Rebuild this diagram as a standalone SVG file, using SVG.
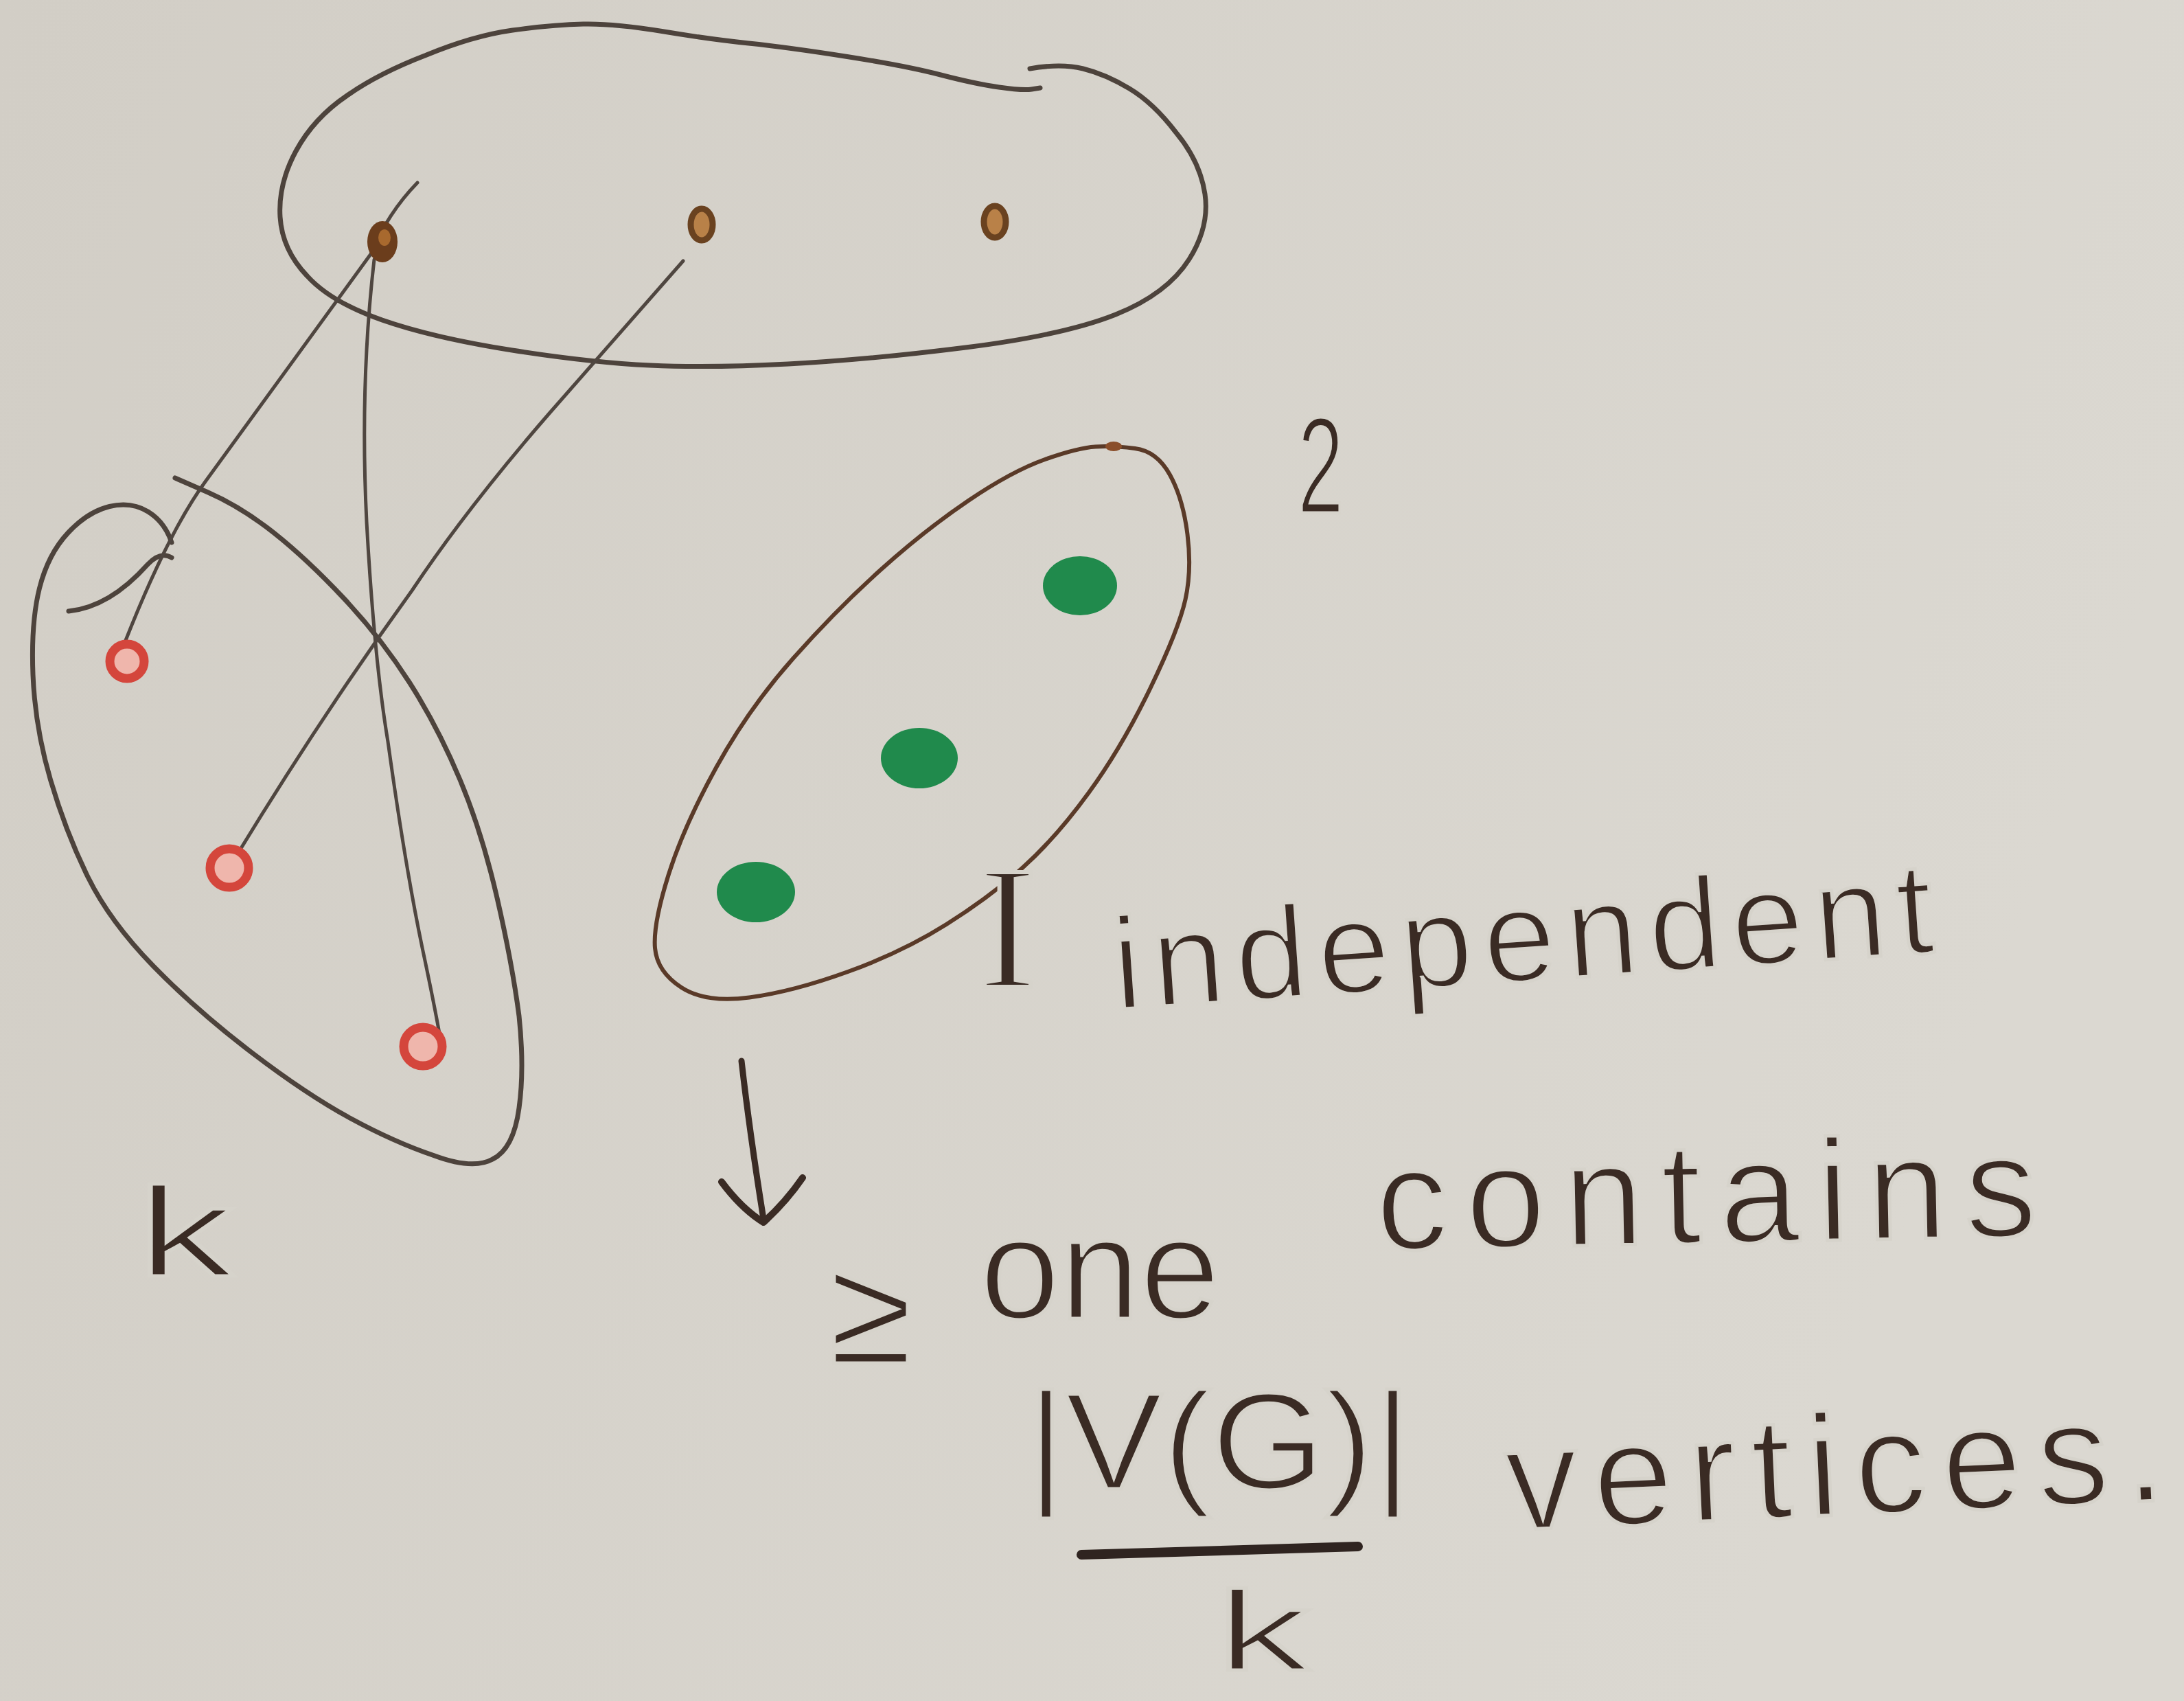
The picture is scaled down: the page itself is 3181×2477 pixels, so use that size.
<svg xmlns="http://www.w3.org/2000/svg" width="3181" height="2477" viewBox="0 0 3181 2477">
<defs>
<linearGradient id="paper" x1="0" y1="0" x2="1" y2="0.3">
<stop offset="0" stop-color="#d2cec6"/>
<stop offset="1" stop-color="#dbd8d1"/>
</linearGradient>
</defs>
<style>
.pen{fill:none;stroke:#4d433c;stroke-width:7;stroke-linecap:round;stroke-linejoin:round}
.edge{fill:none;stroke:#4f4640;stroke-width:5;stroke-linecap:round;stroke-linejoin:round}
.brownpen{fill:none;stroke:#5a3a28;stroke-width:6;stroke-linecap:round;stroke-linejoin:round}
.ink{fill:#3a2b24;font-family:"Liberation Sans",Arial,sans-serif;stroke:#d6d3cb;stroke-width:5;paint-order:normal}
.red{fill:#efb6ac;stroke:#d4463c;stroke-width:13}
.green{fill:#208a4c}
.ring{fill:#b98148;stroke:#6a4220;stroke-width:9}
</style>
<rect width="3181" height="2477" fill="url(#paper)"/>

<g id="set-top">
<path class="pen" d="M1500 100 Q1545 92 1577.5 100 Q1610 108 1645 129 Q1680 150 1712.5 192.5 Q1748 235 1755 282.5 Q1762 330 1732 377.5 Q1700 428 1625 458 Q1550 488 1406.5 506 Q1263 524 1148 530 Q1033 536 947 532 Q861 528 746 510 Q631 492 556.5 466 Q482 440 447.5 402 Q411 364 408 316 Q405 268 431 220 Q457 172 505 139.5 Q551 107 620 80.5 Q689 52 746.5 44 Q804 36 849.5 35 Q895 34 964 45.5 Q1033 57 1090.5 63 Q1148 69 1234 82.5 Q1320 96 1370 109 Q1420 122 1455 127 Q1490 132 1502.5 130 L1515 128"/>
</g>

<g id="set-left">
<path class="pen" d="M250 790 Q240 760 215.5 745 Q191 730 159.5 737.5 Q128 745 99 776 Q70 807 57.5 856.5 Q45 906 48 982.5 Q51 1059 73.5 1135.5 Q96 1212 128 1277 Q160 1342 223.5 1407 Q287 1472 367 1533 Q447 1594 510.5 1628.5 Q574 1663 631.5 1682.5 Q689 1704 717.5 1688 Q748 1673 756 1613.5 Q764 1556 756 1479.5 Q746 1403 724 1307.5 Q702 1212 670 1135.5 Q638 1059 596.5 994 Q555 929 501 871.5 Q447 814 399 776 Q351 738 303 717 L255 696"/>
<path class="pen" d="M100 890 C150 885 190 850 215 822 C228 808 240 806 250 812"/>
</g>

<g id="set-right">
<path class="brownpen" d="M1595.5 650.5 Q1621 649 1653 653 Q1685 657 1704 691.5 Q1723 726 1729.5 778 Q1736 830 1726.5 873 Q1717 916 1675.5 1002 Q1634 1088 1586 1154 Q1538 1220 1490 1263 Q1442 1306 1378.5 1346 Q1315 1386 1235 1415 Q1155 1444 1091.5 1452.5 Q1028 1461 992.5 1438 Q957 1415 954 1380.5 Q951 1346 973.5 1274.5 Q996 1203 1043.5 1117 Q1091 1031 1155 959 Q1219 887 1283 829.5 Q1347 772 1410.5 729 Q1474 686 1522 669 Q1570 652 1595.5 650.5 Z"/>
<ellipse cx="1622" cy="650" rx="12" ry="7" fill="#8a4e2a"/>
</g>

<g id="connectors">
<path class="edge" d="M608 266 Q565 310 540 370 L300 700 Q245 775 182 935"/>
<path class="edge" d="M545 378 Q524 560 534 760 Q545 960 565 1080 Q590 1260 615 1380 Q632 1460 640 1505"/>
<path class="edge" d="M995 380 L800 602 Q680 740 600 860 Q470 1040 345 1245"/>
</g>

<g id="v-top-1"><ellipse cx="557" cy="352" rx="22" ry="30" fill="#6b3d1c"/><ellipse cx="560" cy="346" rx="9" ry="12" fill="#a8692e"/></g>
<g id="v-top-2"><ellipse class="ring" cx="1022" cy="327" rx="16" ry="23"/></g>
<g id="v-top-3"><ellipse class="ring" cx="1449" cy="323" rx="16" ry="23"/></g>

<g id="v-left-1"><circle class="red" cx="185" cy="963" r="25"/></g>
<g id="v-left-2"><circle class="red" cx="334" cy="1264" r="28"/></g>
<g id="v-left-3"><circle class="red" cx="616" cy="1524" r="28"/></g>

<g id="v-right-1"><ellipse class="green" cx="1573" cy="853" rx="54" ry="43"/></g>
<g id="v-right-2"><ellipse class="green" cx="1339" cy="1104" rx="56" ry="44"/></g>
<g id="v-right-3"><ellipse class="green" cx="1101" cy="1299" rx="57" ry="44"/></g>

<g id="labels">
<text class="ink" x="1890" y="747" font-size="200" textLength="67" lengthAdjust="spacingAndGlyphs">2</text>
<text class="ink" x="200" y="1858" font-size="185" textLength="140" lengthAdjust="spacingAndGlyphs">k</text>
<text x="1425" y="1437" font-size="255" style="fill:#3a2b24;font-family:'Liberation Serif',serif;stroke:#d6d3cb;stroke-width:6">I</text>
<text class="ink" x="1625" y="1470" font-size="190" textLength="1197" lengthAdjust="spacing" transform="rotate(-4 1625 1470)">independent</text>
<path class="pen" style="stroke:#3a2b24;stroke-width:9" d="M1080 1545 Q1092 1650 1112 1775"/>
<path class="pen" style="stroke:#3a2b24;stroke-width:10" d="M1051 1721 Q1080 1760 1112 1780 Q1145 1750 1169 1715"/>
<text class="ink" x="1208" y="1985" font-size="220">≥</text>
<text class="ink" x="1427" y="1920" font-size="210" textLength="350" lengthAdjust="spacing">one</text>
<text class="ink" x="2005" y="1820" font-size="210" textLength="963" lengthAdjust="spacing" transform="rotate(-1.2 2005 1820)">contains</text>
<text class="ink" x="1496" y="2168" font-size="200" textLength="560" lengthAdjust="spacingAndGlyphs">|V(G)|</text>
<path class="pen" style="stroke:#2f2420;stroke-width:14" d="M1575 2264 Q1780 2258 1978 2252"/>
<text class="ink" x="1772" y="2432" font-size="165" textLength="135" lengthAdjust="spacingAndGlyphs">k</text>
<text class="ink" x="2196" y="2228" font-size="210" textLength="960" lengthAdjust="spacing" transform="rotate(-2.6 2196 2228)">vertices.</text>
</g>
</svg>
